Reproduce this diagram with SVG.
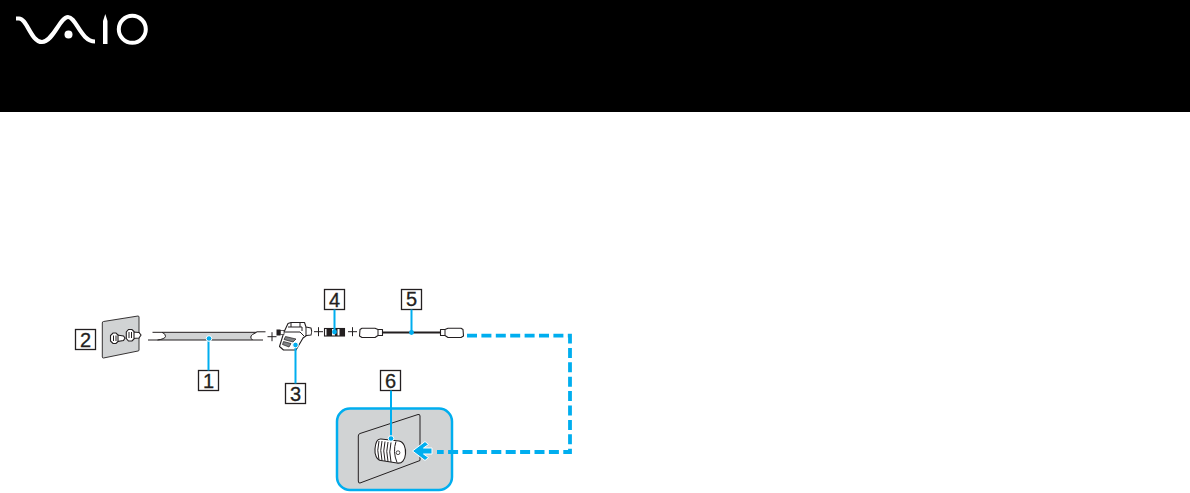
<svg xmlns="http://www.w3.org/2000/svg" width="1190" height="493" viewBox="0 0 1190 493">
<style>
.box{fill:#fff;stroke:#231f20;stroke-width:1.300}
.num{font-family:"Liberation Sans",Arial,sans-serif;font-size:20px;fill:#231f20;stroke:#231f20;stroke-width:.3;text-anchor:middle}
.lead{fill:none;stroke:#00aeef;stroke-width:2}
.dash{fill:none;stroke:#00aeef;stroke-width:3.800;stroke-dasharray:10 4.400}
.ink{fill:none;stroke:#231f20;stroke-width:1}
.grey{fill:#d1d3d4;stroke:#231f20;stroke-width:.9}
.wht{fill:#fff;stroke:#231f20;stroke-width:1.100}
.logo{fill:none;stroke:#fff;stroke-width:4.200}
.dot{fill:#00aeef;stroke:#fff;stroke-width:1}
</style>
<rect width="1190" height="493" fill="#fff"/>
<g id="header">
<rect width="1190" height="112" fill="#000"/>
<path class="logo" d="M16 18.500H19C27 18.500 31 42 42 42C53 42 60 17 68 17C76 17 81 41.500 95 41.500"/>
<circle cx="68.500" cy="34.500" r="4" fill="#fff"/>
<path d="M103 44V21L105.300 14L107.500 21V44Z" fill="#fff"/>
<circle cx="132.300" cy="29.300" r="13.500" fill="none" stroke="#fff" stroke-width="4"/>
</g>
<g id="node-2">
<path class="grey" d="M103.500 321.500L138 316Q139 316 139 317V350Q139 351 138 351L103.500 358Q102.300 358 102.300 357V323Q102.300 321.500 103.500 321.500Z"/>
<path class="wht" d="M117 335L123.500 336L125 338L123.500 340.500L117 341.500Z" fill="#d1d3d4"/>
<path class="wht" d="M113 333H116L118 335V341.500L116 343.500H113L110.500 341V335.500Z" fill="#d1d3d4"/>
<path class="ink" d="M113.500 335.500v5.500M116 335.500v5.500" stroke-width=".7"/>
<path class="wht" d="M133 332L139 332.500L141 335L139 338L133 338.500Z" fill="#d1d3d4"/>
<path class="wht" d="M128.500 329.500H132L134 331.500V339L132 341H128.500L126.300 338.500V332Z" fill="#d1d3d4"/>
<path class="ink" d="M129 332v6M131.500 332v6" stroke-width=".7"/>
<rect class="box" x="75.500" y="329.500" width="20" height="20"/>
<text class="num" x="85.500" y="346.500">2</text>
</g>
<g id="node-1">
<path d="M162 332H257L253 334.500Q250 337 253 340H157.500Q166 338 165.500 335Q165 333 162 332Z" fill="#d1d3d4"/>
<path class="ink" d="M152.500 332.300H256.500M148 340H263M256.500 331.800H265.500M252.500 340Q249 337 252.500 334.500L256.500 332.300M162 332.300Q166 334 165.500 336.500T157.500 340" stroke-width="1.100"/>
<rect class="box" x="198.500" y="370.500" width="20" height="20"/>
<text class="num" x="208.500" y="387.500">1</text>
</g>
<g id="plus-signs">
<path class="ink" d="M267.500 336.700h9M272 332.200v9" stroke-width="1.100"/>
<path class="ink" d="M314 331.700h9M318.500 327.200v9M348 331.700h9M352.500 327.200v9" stroke-width="2"/>
</g>
<g id="node-3">
<path class="wht" d="M288 323.500L291 322.500H304.500L306 327L311 328Q312.500 331.500 311 335L306.500 335.500L303 338L296 350H283.500L279.500 346.500L284 332Z" stroke-linejoin="round"/>
<path class="ink" d="M306 327V336M288 327H302V331M291 323v4M300 323v4M285 332H300L304 336" stroke-width=".9"/>
<path d="M285.500 336.500L296 339L293 342L284 339.500ZM283.500 341.500L291 343.500L289 347L282.500 344.500Z" fill="#808285" stroke="#231f20" stroke-width=".7"/>
<rect x="276.500" y="329.500" width="4" height="6" fill="#231f20"/>
<rect x="280.500" y="330.500" width="3.500" height="4" fill="#fff" stroke="#231f20" stroke-width=".7"/>
<rect class="box" x="285.500" y="383.500" width="20" height="20"/>
<text class="num" x="295.500" y="400.500">3</text>
</g>
<g id="node-4">
<rect class="wht" x="324.500" y="328.500" width="20" height="7.500"/>
<path d="M326.500 328.500h5.500v7.500h-5.500ZM335 328.500h2.500v7.500h-2.500ZM339.500 328.500h5v7.500h-5Z" fill="#231f20"/>
<rect class="box" x="324.500" y="289.500" width="20" height="20"/>
<text class="num" x="334.500" y="306.500">4</text>
</g>
<g id="node-5">
<path class="wht" d="M360 329.500L362 328.300H375L378 329.500H382.500V335.500H378L375 337.500H362L359.500 336Z" stroke-linejoin="round" stroke-width="1.300"/>
<path class="wht" d="M463 329.500L461 328.300H448L445 329.500H440.500V335.500H445L448 337.500H461L463.500 336Z" stroke-linejoin="round" stroke-width="1.300"/>
<path class="ink" d="M378 330v5M445 330v5"/>
<path d="M382 332.500H441" fill="none" stroke="#231f20" stroke-width="1.800"/>
<rect class="box" x="401.500" y="289.500" width="20" height="20"/>
<text class="num" x="411.500" y="306">5</text>
</g>
<g id="node-6">
<rect x="337" y="408.500" width="115" height="81.500" rx="13" fill="#d1d3d4" stroke="#00aeef" stroke-width="2.500"/>
<path class="ink" d="M360 433.500L418 414.500Q420 414 420 416V460.500L360 483Q358.300 483.500 358.300 481V436Q358.300 434 360 433.500Z" stroke-width=".9"/>
<path class="wht" d="M381 439L399 441C404 442 406 448 405.500 454C405 460 402 464 397 463L381 460.500C376.500 460 374.500 454 375 449C375.500 443 377 438.500 381 439Z"/>
<path class="ink" d="M379 441q-2.500 9 0 19M382 441q-2.500 9 0 19.500M385 441.500q-2.500 9 0 19.500M388 442q-2.500 9 0 19.500M391 442.500q-2.500 9 0 19.500" stroke-width=".9"/>
<path class="ink" d="M396 441.500q-3.500 10 1 21" stroke-width=".7"/>
<circle cx="398" cy="452.700" r="1.900" fill="#fff" stroke="#231f20" stroke-width=".8"/>
<rect class="box" x="380.500" y="370.500" width="20" height="20"/>
<text class="num" x="390.500" y="387.500">6</text>
</g>
<g id="connectors">
<path class="lead" d="M208.500 339V370.500M295.500 345V383.500M334.500 309.500V332"/>
<path class="lead" d="M411.500 309.500V332.500" stroke-width="1.300"/>
<path class="lead" d="M391 390.500V438"/>
<circle class="dot" cx="209" cy="338.500" r="2.800"/>
<circle class="dot" cx="295.500" cy="345" r="2.800"/>
<circle cx="334.500" cy="332" r="2.400" fill="#00aeef"/>
<circle cx="411.500" cy="332.500" r="2.400" fill="#00aeef"/>
<circle class="dot" cx="391" cy="438.500" r="2.800"/>
<path class="dash" d="M467 335.700H570V452H437"/>
<path d="M412.500 451L425 441.500L428.500 444.500L423.500 448H432V454H423.500L428.500 457.500L425 460.500Z" fill="#00aeef" stroke="#fff" stroke-width="1"/>
</g>
</svg>
